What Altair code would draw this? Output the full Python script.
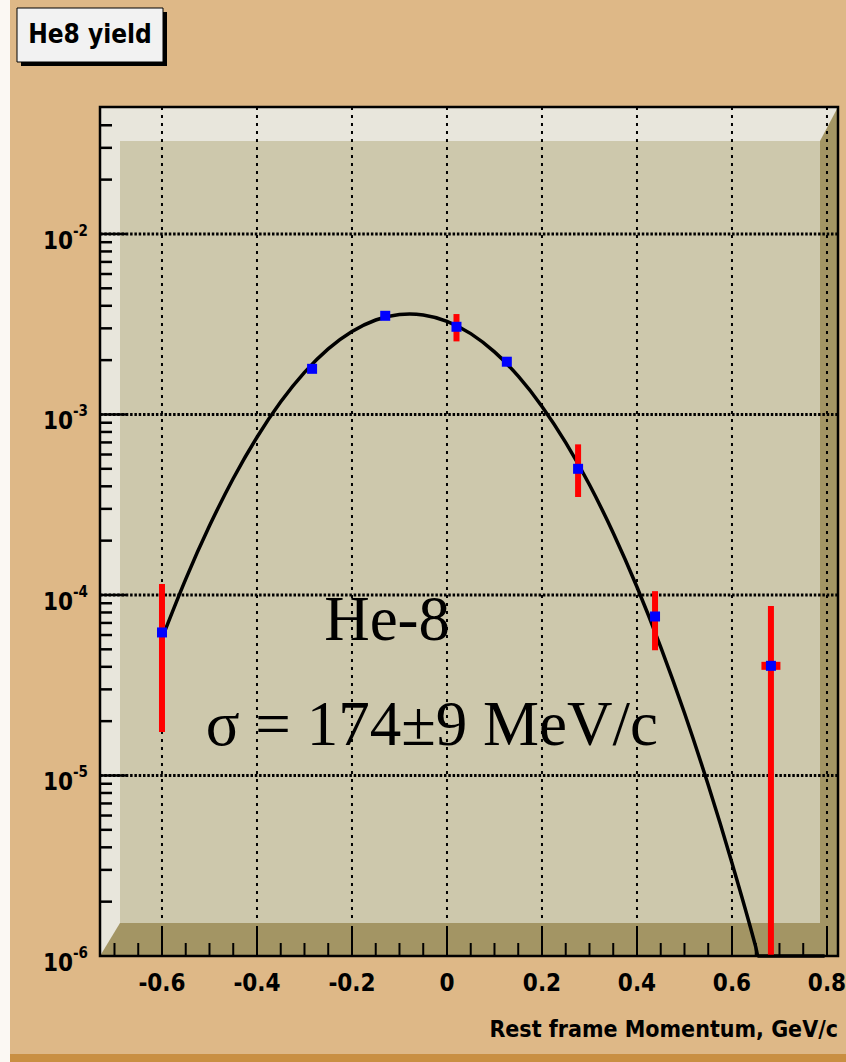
import altair as alt
import pandas as pd

# ---------------- data ----------------
p_x   = [-0.600, -0.284, -0.130, 0.020, 0.126, 0.276, 0.438, 0.682]
p_y   = [6.2e-5, 1.79e-3, 3.52e-3, 3.06e-3, 1.96e-3, 5.0e-4, 7.6e-5, 4.05e-5]
p_ylo = [1.74e-5, 1.72e-3, 3.40e-3, 2.54e-3, 1.90e-3, 3.49e-4, 4.94e-5, 1.0e-6]
p_yhi = [1.15e-4, 1.86e-3, 3.64e-3, 3.60e-3, 2.02e-3, 6.83e-4, 1.05e-4, 8.7e-5]
p_xerr = [0, 0, 0, 0, 0, 0, 0, 0.02]

# fitted curve
fit_x = [-0.60, -0.55, -0.50, -0.45, -0.40, -0.35, -0.30, -0.25, -0.20, -0.15,
         -0.10, -0.0785, -0.05, 0.00, 0.05, 0.10, 0.15, 0.20, 0.25, 0.30,
         0.35, 0.40, 0.45, 0.50, 0.55, 0.60, 0.65, 0.655, 0.70, 0.75, 0.795]
fit_y = [5.75e-5, 1.225e-4, 2.415e-4, 4.42e-4, 7.48e-4, 1.175e-3, 1.71e-3, 2.307e-3, 2.88e-3, 3.336e-3,
         3.581e-3, 3.606e-3, 3.561e-3, 3.282e-3, 2.805e-3, 2.221e-3, 1.629e-3, 1.108e-3, 6.98e-4, 4.077e-4,
         2.207e-4, 1.107e-4, 5.147e-5, 2.218e-5, 8.85e-6, 3.277e-6, 1.123e-6, 1.0e-6, 1.0e-6, 1.0e-6, 1.0e-6]

x_major = [-0.6, -0.4, -0.2, 0.0, 0.2, 0.4, 0.6, 0.8]
x_labels = ["-0.6", "-0.4", "-0.2", "0", "0.2", "0.4", "0.6", "0.8"]
x_minor = [-0.7, -0.65, -0.55, -0.5, -0.45, -0.35, -0.3, -0.25, -0.15, -0.1, -0.05,
           0.05, 0.1, 0.15, 0.25, 0.3, 0.35, 0.45, 0.5, 0.55, 0.65, 0.7, 0.75]
y_major = [1e-6, 1e-5, 1e-4, 1e-3, 1e-2]
y_exp = ["-6", "-5", "-4", "-3", "-2"]
y_minor = [2e-6, 3e-6, 4e-6, 5e-6, 6e-6, 7e-6, 8e-6, 9e-6,
           2e-5, 3e-5, 4e-5, 5e-5, 6e-5, 7e-5, 8e-5, 9e-5,
           2e-4, 3e-4, 4e-4, 5e-4, 6e-4, 7e-4, 8e-4, 9e-4,
           2e-3, 3e-3, 4e-3, 5e-3, 6e-3, 7e-3, 8e-3, 9e-3,
           2e-2, 3e-2, 4e-2]

title_text = "He8 yield"
x_title = "Rest frame Momentum, GeV/c"
ann1 = "He-8"
ann1_pos = (-0.126, 5.64e-5)
ann2 = "σ = 174±9 MeV/c"
ann2_pos = (-0.032, 1.476e-5)

# ---------------- styling ----------------
W, H = 738, 849
NARROW = "DejaVu Sans Condensed, Liberation Sans, sans-serif"
SERIF = "Liberation Serif, Times New Roman, serif"
BG = "#deb887"
LIGHT = "#e8e6dc"
BACK = "#cdc8ac"
DARK = "#a39564"

xs = alt.Scale(domain=[-0.7305, 0.8232], nice=False, zero=False)
ys = alt.Scale(type="log", domain=[1e-6, 0.0505], nice=False)

pts = pd.DataFrame({"x": p_x, "y": p_y, "ylo": p_ylo, "yhi": p_yhi, "xerr": p_xerr})
pts["xl"] = pts["x"] - pts["xerr"]
pts["xh"] = pts["x"] + pts["xerr"]
fit = pd.DataFrame({"x": fit_x, "y": fit_y})
dummy = pd.DataFrame({"k": [0]})


def X(f="x"):
    return alt.X(f"{f}:Q", scale=xs, axis=None)


def Y(f="y"):
    return alt.Y(f"{f}:Q", scale=ys, axis=None)


def rect(x1, x2, y1, y2, color, **kw):
    return alt.Chart(dummy).mark_rect(color=color, clip=False, **kw).encode(
        x=alt.value(x1), x2=alt.value(x2), y=alt.value(y1), y2=alt.value(y2))


def tri(cx, cy, r, path, color):
    return alt.Chart(dummy).mark_point(shape=path, filled=True, size=(2 * r) ** 2,
                                       color=color, opacity=1, strokeWidth=0,
                                       clip=False).encode(x=alt.value(cx), y=alt.value(cy))


layers = []
# canvas decorations
layers.append(rect(-100, -90, -107, 955, "#fbf8f3"))
layers.append(rect(-90, 746, 947, 955, "#c98f42"))
# 3D frame panels
layers.append(rect(0, W, 0, H, LIGHT))
layers.append(rect(20, 720, 34, 816, BACK))
layers.append(rect(720, W, 34, H, DARK))
layers.append(rect(20, W, 816, H, DARK))
layers.append(tri(729, 17, 17, "M 0.529 -1 L 0.529 1 L -0.529 1 Z", DARK))
layers.append(tri(10, 832.5, 16.5, "M -0.606 1 L 0.606 -1 L 0.606 1 Z", DARK))

# grid
layers.append(alt.Chart(pd.DataFrame({"x": x_major})).mark_rule(
    color="black", strokeWidth=2, strokeDash=[3, 5]).encode(
    x=X(), y=alt.value(0), y2=alt.value(815)))
layers.append(alt.Chart(pd.DataFrame({"y": y_major[1:]})).mark_rule(
    color="black", strokeWidth=3, strokeDash=[2.5, 1.8]).encode(
    y=Y(), x=alt.value(0), x2=alt.value(W)))

# ticks
layers.append(alt.Chart(pd.DataFrame({"y": y_major[1:]})).mark_rule(
    color="black", strokeWidth=2.5).encode(y=Y(), x=alt.value(0), x2=alt.value(26)))
layers.append(alt.Chart(pd.DataFrame({"y": y_minor})).mark_rule(
    color="black", strokeWidth=2.5).encode(y=Y(), x=alt.value(0), x2=alt.value(12)))
layers.append(alt.Chart(pd.DataFrame({"x": x_major})).mark_rule(
    color="black", strokeWidth=2).encode(x=X(), y=alt.value(819), y2=alt.value(H)))
layers.append(alt.Chart(pd.DataFrame({"x": x_minor})).mark_rule(
    color="black", strokeWidth=2).encode(x=X(), y=alt.value(836), y2=alt.value(H)))

# tick labels
layers.append(alt.Chart(pd.DataFrame({"x": x_major, "t": x_labels})).mark_text(
    font=NARROW, fontSize=24, fontWeight="bold", color="black", align="center",
    baseline="middle", clip=False).encode(x=X(), y=alt.value(877), text="t:N"))
ylab = pd.DataFrame({"y": y_major, "b": ["10"] * len(y_major), "e": y_exp})
layers.append(alt.Chart(ylab).mark_text(
    font=NARROW, fontSize=24, fontWeight="bold", color="black", align="right",
    baseline="middle", dy=8, clip=False).encode(y=Y(), x=alt.value(-27), text="b:N"))
layers.append(alt.Chart(ylab).mark_text(
    font=NARROW, fontSize=15, fontWeight="bold", color="black", align="left",
    baseline="middle", dy=-3, clip=False).encode(y=Y(), x=alt.value(-27), text="e:N"))
# axis title
layers.append(alt.Chart(dummy).mark_text(
    font=NARROW, fontSize=23, fontWeight="bold", color="black", align="right",
    baseline="alphabetic", clip=False, text=x_title).encode(
    x=alt.value(W), y=alt.value(930)))

# fit curve
layers.append(alt.Chart(fit).mark_line(color="black", strokeWidth=3.5,
                                       interpolate="monotone", clip=False).encode(x=X(), y=Y()))
# error bars
layers.append(alt.Chart(pts).mark_rule(color="#ff0000", strokeWidth=6, clip=True).encode(
    x=X(), y=Y("ylo"), y2="yhi:Q"))
layers.append(alt.Chart(pts).transform_filter("datum.xerr > 0").mark_rule(
    color="#ff0000", strokeWidth=8, clip=True).encode(x=X("xl"), x2="xh:Q", y=Y()))
# markers
layers.append(alt.Chart(pts).mark_square(color="#0000ff", size=100, opacity=1).encode(
    x=X(), y=Y()))

# annotations
ann = pd.DataFrame({"x": [ann1_pos[0], ann2_pos[0]], "y": [ann1_pos[1], ann2_pos[1]],
                    "t": [ann1, ann2]})
layers.append(alt.Chart(ann).mark_text(font=SERIF, fontSize=63, color="black",
                                       align="center", baseline="alphabetic").encode(
    x=X(), y=Y(), text="t:N"))

# frame border
layers.append(alt.Chart(dummy).mark_rect(fillOpacity=0, stroke="black", strokeWidth=2.5,
                                         clip=False).encode(
    x=alt.value(0), x2=alt.value(W), y=alt.value(0), y2=alt.value(H)))

# title box
layers.append(rect(-79, 67, -95, -41, "black"))
layers.append(rect(-83, 63, -99, -45, "#f2f2f2", stroke="black", strokeWidth=1))
layers.append(alt.Chart(dummy).mark_text(
    font=NARROW, fontSize=26, fontWeight="bold", color="black", align="center",
    baseline="middle", clip=False, text=title_text).encode(
    x=alt.value(-10), y=alt.value(-72)))

chart = alt.layer(*layers).properties(
    width=W, height=H,
    padding={"left": 100, "top": 107, "right": 8, "bottom": 106},
    autosize=alt.AutoSizeParams(type="none"),
    background=BG,
).configure_view(stroke=None)

chart.save("out.html", embed_options={"renderer": "svg", "actions": False})
